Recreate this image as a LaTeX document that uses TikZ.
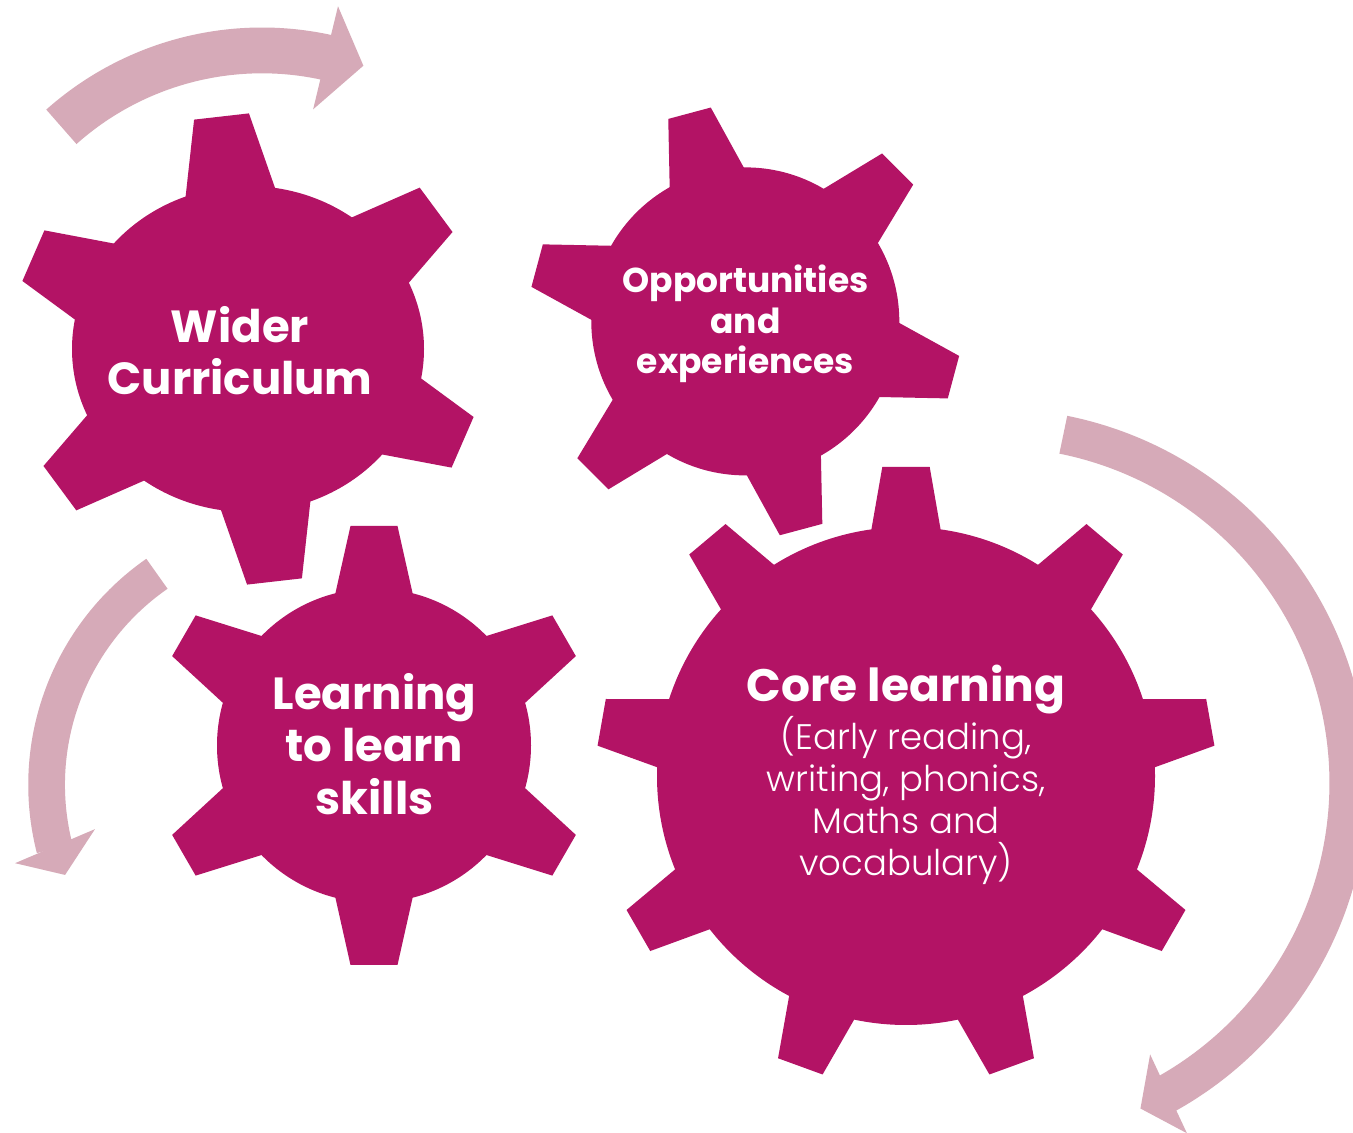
\documentclass[tikz,border=0pt]{standalone}
\usepackage{fontspec}
\setmainfont{Poppins}
\newfontfamily\lightfont{Poppins Light}
\usetikzlibrary{calc}
\definecolor{gearMagenta}{RGB}{179,19,101}
\definecolor{swirlPink}{RGB}{214,170,184}

% \gearwheel{centre}{x radius}{y radius}{teeth}{first tooth}{inner r}{inner half width}{tip r}{tip half width}
\newcommand{\gearwheel}[9]{%
  \fill[gear] (#1) ellipse[x radius=#2, y radius=#3];
  \foreach \k in {1,...,#4}
    \fill[gear, shift={(#1)}, rotate={#5-(\k-1)*360/#4}]
      (#6,-#7) -- (#8,-#9) -- (#8,#9) -- (#6,#7) -- cycle;
}

\tikzset{
  gear/.style={fill=gearMagenta},
  swirl/.style={draw=swirlPink, line width=#1},
  swirlhead/.style={fill=swirlPink},
  bigtext/.style={text=white, align=center, font=\bfseries\fontsize{45}{52.3}\selectfont},
  midtext/.style={text=white, align=center, font=\bfseries\fontsize{34.5}{40.7}\selectfont},
  coretext/.style={text=white, align=center, font=\lightfont\fontsize{35.5}{41.7}\selectfont}
}

\begin{document}
\begin{tikzpicture}[x=1pt, y=1pt]
  \useasboundingbox (0,0) rectangle (1353,1133);
  \clip (0,0) rectangle (1353,1133);
  \fill[white] (0,0) rectangle (1353,1133);

  % turning arrows
  \coordinate (topturn) at (262,781);
  \coordinate (leftturn) at (303.6,348.2);
  \coordinate (rightturn) at (993,349.6);

  \draw[swirl=45.8pt] ($(topturn)+(131.7:301.6)$) arc[start angle=131.7, end angle=77.4, radius=301.6];
  \fill[swirlhead] ($(topturn)+(77.6:354)$) -- ($(topturn)+(70.5:303.7)$) -- ($(topturn)+(78.1:248)$) -- cycle;

  \draw[swirl=36.7pt] ($(leftturn)+(124.8:257)$) arc[start angle=124.8, end angle=194.4, radius=257];
  \fill[swirlhead] ($(leftturn)+(195.2:299)$) -- ($(leftturn)+(200.7:255)$) -- ($(leftturn)+(192:213.3)$) -- cycle;

  \draw[swirl=38.6pt] ($(rightturn)+(78.6:355.7)$) arc[start angle=78.6, end angle=-60.9, radius=355.7];
  \fill[swirlhead] ($(rightturn)+(-61:400)$) -- ($(rightturn)+(-65.6:357)$) -- ($(rightturn)+(-59.9:313.3)$) -- cycle;

  % gears
  \gearwheel{248,784}{176}{163}{6}{96.5}{130}{51.2}{234}{27.6}
  \gearwheel{745.3,811.6}{154}{154}{6}{105}{120}{45.5}{215.5}{22}
  \gearwheel{374,387.5}{157}{157}{6}{90}{125}{44.7}{219.5}{23.5}
  \gearwheel{906,357}{249}{249}{9}{90}{215}{40.1}{309}{23.7}

  % labels
  \node[bigtext] (wider) at (240,782.5) {Wider\\Curriculum};
  \node[midtext] (opps) at (745.5,809.1) {Opportunities\\and\\experiences};
  \node[bigtext] (skills) at (374.5,389) {Learning\\to learn\\skills};
  \node[coretext] (core) at (906,358.4) {{\normalfont\bfseries\fontsize{45.5}{45.5}\selectfont Core learning}\\[1.8pt]
    (Early reading,\\writing, phonics,\\Maths and\\vocabulary)};
\end{tikzpicture}
\end{document}
